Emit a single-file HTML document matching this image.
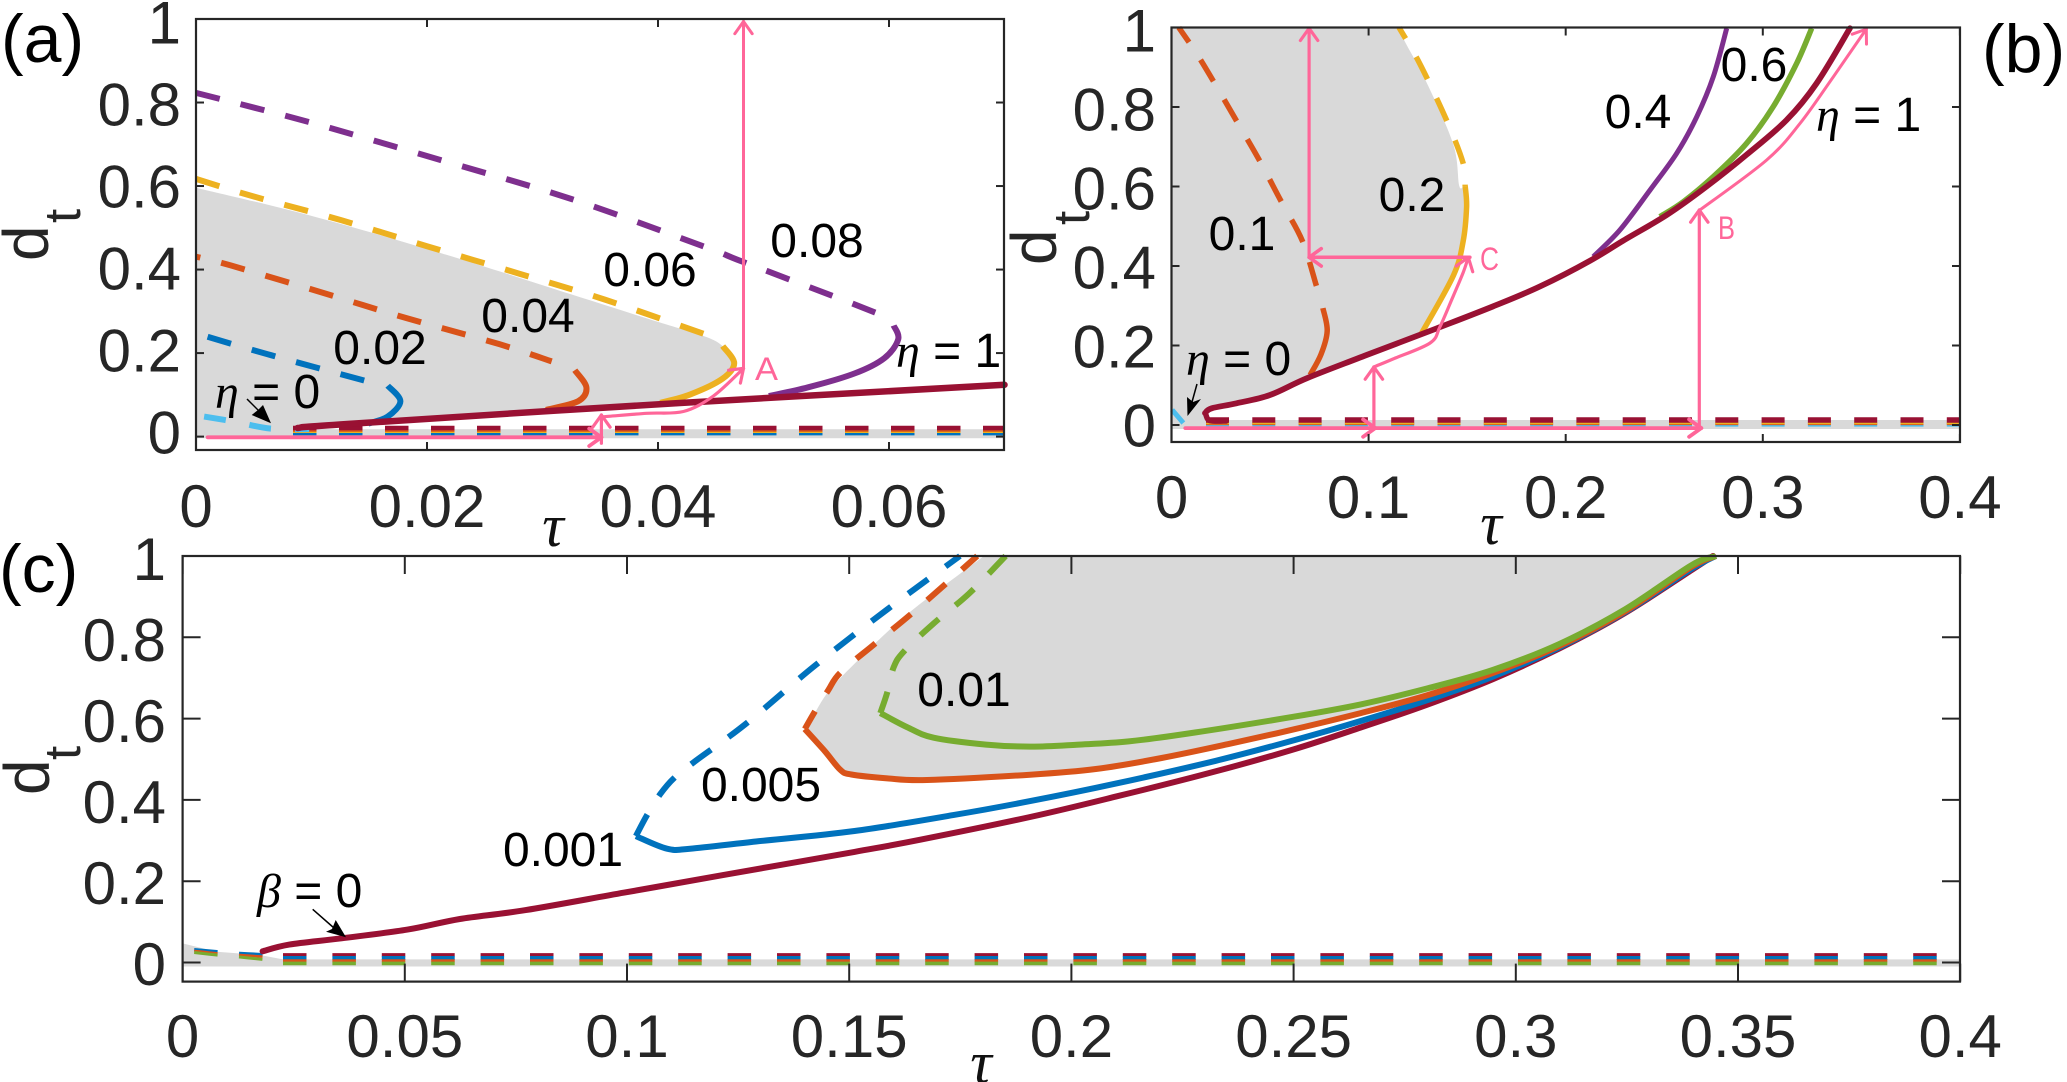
<!DOCTYPE html>
<html lang="en">
<head>
<meta charset="utf-8">
<title>Bifurcation diagrams of d_t against tau</title>
<style>
html,body{margin:0;padding:0;background:#fff;width:2067px;height:1082px;overflow:hidden}
svg{display:block;font-family:"Liberation Sans",Arial,sans-serif}
.lbl{font-size:48px;fill:#000;text-anchor:middle}
.eta{font-size:48px;fill:#000}
.gr{font-family:"Liberation Serif",serif;font-style:italic}
.panel{font-size:68px;fill:#000}
.dt{font-size:64px;fill:#262626}
.dts{font-size:51px;fill:#262626}
.tau{font-family:"Liberation Serif",serif;font-style:italic;font-size:60px;fill:#111;text-anchor:middle}
.pk{font-size:32px;fill:#ff6699}
</style>
</head>
<body>
<svg id="fig" xmlns="http://www.w3.org/2000/svg" width="2067" height="1082" viewBox="0 0 2067 1082">
<g id="panel-a"></g>
<g id="panel-b"></g>
<g id="panel-c"></g>

<g>
<text class="panel" x="1" y="62">(a)</text>
<text class="panel" x="1982" y="72">(b)</text>
<text class="panel" x="-1" y="592">(c)</text>
</g>

<g>
<text class="dt" transform="translate(48,261) rotate(-90)">d</text>
<text class="dts" transform="translate(80,223) rotate(-90)">t</text>
<text class="dt" transform="translate(1056,265) rotate(-90)">d</text>
<text class="dts" transform="translate(1089,225) rotate(-90)">t</text>
<text class="dt" transform="translate(49,795) rotate(-90)">d</text>
<text class="dts" transform="translate(80,760) rotate(-90)">t</text>
</g>
<g>
<text class="tau" x="553" y="546">τ</text>
<text class="tau" x="1491" y="544">τ</text>
<text class="tau" x="981" y="1083">τ</text>
</g>

<g>
<text class="lbl" x="817" y="257">0.08</text>
<text class="lbl" x="650" y="286">0.06</text>
<text class="lbl" x="528" y="332">0.04</text>
<text class="lbl" x="380" y="364">0.02</text>
<text class="eta" x="896" y="367"><tspan class="gr">η</tspan> = 1</text>
<text class="eta" x="215" y="408"><tspan class="gr">η</tspan> = 0</text>
<line x1="247" y1="399" x2="262" y2="414" stroke="#000" stroke-width="1.5"/>
<polygon points="271,423.3 251.7,415 258,410 263,405" fill="#000"/>
<text class="pk" x="755" y="380" textLength="23" lengthAdjust="spacingAndGlyphs">A</text>
</g>
<g>
<text class="lbl" x="1638" y="128">0.4</text>
<text class="lbl" x="1754" y="81">0.6</text>
<text class="lbl" x="1412" y="211">0.2</text>
<text class="lbl" x="1242" y="250">0.1</text>
<text class="eta" x="1816" y="131"><tspan class="gr">η</tspan> = 1</text>
<text class="eta" x="1186" y="375"><tspan class="gr">η</tspan> = 0</text>
<line x1="1197" y1="384" x2="1192" y2="402" stroke="#000" stroke-width="1.5"/>
<polygon points="1187.5,416 1201,399 1193,402 1187,397" fill="#000"/>
<text class="pk" x="1480" y="270" textLength="19" lengthAdjust="spacingAndGlyphs">C</text>
<text class="pk" x="1718" y="239" textLength="17" lengthAdjust="spacingAndGlyphs">B</text>
</g>
<g>
<text class="lbl" x="563" y="866">0.001</text>
<text class="lbl" x="761" y="801">0.005</text>
<text class="lbl" x="964" y="706">0.01</text>
<text class="eta" x="257" y="907"><tspan class="gr">β</tspan> = 0</text>
<line x1="312.7" y1="909.3" x2="334" y2="928" stroke="#000" stroke-width="1.5"/>
<polygon points="346,937.3 326,931.7 332,929 335.7,920" fill="#000"/>
</g>
</svg>

<script>
/* ---------- tick values ---------- */
const aTickX = [0, 0.02, 0.04, 0.06];
const aTickXLabels = ['0', '0.02', '0.04', '0.06'];
const bTickX = [0, 0.1, 0.2, 0.3, 0.4];
const bTickXLabels = ['0', '0.1', '0.2', '0.3', '0.4'];
const cTickX = [0, 0.05, 0.1, 0.15, 0.2, 0.25, 0.3, 0.35, 0.4];
const cTickXLabels = ['0', '0.05', '0.1', '0.15', '0.2', '0.25', '0.3', '0.35', '0.4'];
const tickY = [0, 0.2, 0.4, 0.6, 0.8, 1];
const tickYLabels = ['0', '0.2', '0.4', '0.6', '0.8', '1'];

/* ---------- panel (a) series: tau and d_t ---------- */
const aPurpleDashTau = [0, 0.0098, 0.0212, 0.0325, 0.0439, 0.0473, 0.0553, 0.059];
const aPurpleDashD = [0.823, 0.753, 0.662, 0.569, 0.456, 0.419, 0.335, 0.295];
const aPurpleTau = [0.0604, 0.0608, 0.0596, 0.057, 0.053, 0.0496];
const aPurpleD = [0.266, 0.233, 0.188, 0.151, 0.118, 0.097];
const aYellowDashTau = [0, 0.005, 0.0126, 0.02, 0.028, 0.0354, 0.044];
const aYellowDashD = [0.617, 0.575, 0.518, 0.456, 0.39, 0.328, 0.2457];
const aYellowTau = [0.0456, 0.0466, 0.0456, 0.0428, 0.0402];
const aYellowD = [0.2168, 0.176, 0.139, 0.101, 0.081];
const aOrangeDashTau = [0, 0.003, 0.0109, 0.0183, 0.0263, 0.0308];
const aOrangeDashD = [0.431, 0.41, 0.345, 0.283, 0.221, 0.18];
const aOrangeTau = [0.0328, 0.0338, 0.0331, 0.0303];
const aOrangeD = [0.159, 0.118, 0.085, 0.064];
const aBlueDashTau = [0.001, 0.0065, 0.0146];
const aBlueDashD = [0.239, 0.195, 0.134];
const aBlueTau = [0.0166, 0.0177, 0.0166, 0.0149];
const aBlueD = [0.122, 0.085, 0.048, 0.031];
const aCyanTau = [0.0007, 0.0035, 0.0064, 0.0098];
const aCyanD = [0.048, 0.035, 0.0195, 0.018];
const aMaroonTau = [0.0088, 0.0131, 0.0419, 0.07];
const aMaroonD = [0.0206, 0.0302, 0.0805, 0.124];
const aEdgeTau = [0, 0.0098, 0.0212, 0.0325, 0.04, 0.0439];
const aEdgeD = [0.596, 0.53, 0.4395, 0.3405, 0.2746, 0.2416];
const aStackTau = [0.0084, 0.07];
const aStackBlueD = [0.0062, 0.0062];
const aStackYellowD = [0.011, 0.011];
const aStackOrangeD = [0.0142, 0.0142];
const aStackMaroonD = [0.0206, 0.0206];
const aBandD = [0.0175, -0.004];
const aPinkHTau = [0.001, 0.0351];
const aPinkHD = [-0.0016, -0.0016];
const aPinkVTau = [0.0351, 0.0351];
const aPinkVD = [-0.016, 0.0517];
const aPinkCurveTau = [0.0353, 0.039, 0.0422, 0.0448, 0.0474];
const aPinkCurveD = [0.0476, 0.0558, 0.0602, 0.0973, 0.1633];
const aPinkJumpTau = [0.0474, 0.0474];
const aPinkJumpD = [0.1633, 0.994];

/* ---------- panel (b) series ---------- */
const bMaroonTau = [0.017, 0.0204, 0.033, 0.05, 0.0686, 0.099, 0.1345, 0.163, 0.187, 0.2123, 0.2292, 0.2512, 0.2715, 0.2918, 0.3121, 0.3273, 0.3442];
const bMaroonD = [0.03, 0.042, 0.0546, 0.0755, 0.1175, 0.176, 0.243, 0.298, 0.3486, 0.413, 0.464, 0.528, 0.6, 0.68, 0.7673, 0.8595, 0.998];
const bHookTau = [0.0175, 0.0195, 0.0277];
const bHookD = [0.025, 0.011, 0.01];
const bGreenTau = [0.2478, 0.2597, 0.2749, 0.2918, 0.3053, 0.3172, 0.3248];
const bGreenD = [0.524, 0.5618, 0.6247, 0.7087, 0.8008, 0.91, 0.998];
const bPurpleTau = [0.214, 0.2275, 0.2428, 0.2563, 0.2665, 0.2749, 0.2817];
const bPurpleD = [0.4234, 0.4906, 0.5912, 0.6835, 0.7756, 0.8763, 0.998];
const bYellowDashTau = [0.1154, 0.126, 0.1396, 0.148, 0.149];
const bYellowDashD = [1, 0.909, 0.766, 0.658, 0.601];
const bYellowTau = [0.149, 0.1497, 0.148, 0.143, 0.1269];
const bYellowD = [0.601, 0.549, 0.463, 0.376, 0.231];
const bOrangeDashTau = [0.0037, 0.0148, 0.0329, 0.0446, 0.0557, 0.0664, 0.0735];
const bOrangeDashD = [1, 0.918, 0.766, 0.666, 0.562, 0.463, 0.35];
const bOrangeTau = [0.0768, 0.079, 0.0758, 0.0703];
const bOrangeD = [0.294, 0.237, 0.177, 0.1258];
const bCyanTau = [0.0003, 0.006];
const bCyanD = [0.038, 0.005];
const bEdgeTopTau = [0, 0.1154];
const bEdgeTopD = [1, 1];
const bEdgeTau = [0.1154, 0.1178, 0.1295, 0.143, 0.146];
const bEdgeD = [1, 0.97, 0.861, 0.705, 0.601];
const bStackTau = [0.0175, 0.4];
const bStackCyanD = [-0.0013, -0.0013];
const bStackOrangeD = [0.0025, 0.0025];
const bStackYellowD = [0.005, 0.005];
const bStackMaroonD = [0.0126, 0.0126];
const bBandD = [0.0126, -0.01];
const bPinkH1Tau = [0.007, 0.1034];
const bPinkH1D = [-0.0078, -0.0078];
const bPinkH2Tau = [0.1034, 0.2688];
const bPinkH2D = [-0.0078, -0.0078];
const bPinkV1Tau = [0.1027, 0.1027];
const bPinkV1D = [-0.0078, 0.146];
const bPinkCurve1Tau = [0.1027, 0.1124, 0.1312, 0.1362, 0.1428, 0.1479, 0.1506];
const bPinkCurve1D = [0.146, 0.166, 0.2063, 0.2473, 0.3228, 0.3824, 0.4218];
const bPinkBackTau = [0.1514, 0.0698];
const bPinkBackD = [0.4218, 0.4218];
const bPinkUpTau = [0.0698, 0.0698];
const bPinkUpD = [0.4218, 0.998];
const bPinkV2Tau = [0.2678, 0.2678];
const bPinkV2D = [-0.0078, 0.5409];
const bPinkCurve2Tau = [0.2681, 0.302, 0.3189, 0.3358, 0.3525];
const bPinkCurve2D = [0.5409, 0.6667, 0.759, 0.8763, 0.996];

/* ---------- panel (c) series ---------- */
const cMaroonTau = [0.018, 0.024, 0.0358, 0.0506, 0.0624, 0.0772, 0.0994, 0.1216, 0.1512, 0.166, 0.1907, 0.21, 0.2324, 0.2502, 0.2651, 0.28, 0.2948, 0.3097, 0.3246, 0.3395, 0.3444];
const cMaroonD = [0.0275, 0.044, 0.0595, 0.081, 0.107, 0.129, 0.172, 0.215, 0.272, 0.302, 0.358, 0.408, 0.47, 0.525, 0.578, 0.634, 0.697, 0.772, 0.86, 0.965, 1];
const cBlueTau = [0.102, 0.109, 0.1142, 0.129, 0.1512, 0.1734, 0.1907, 0.21, 0.2324, 0.2502, 0.2651, 0.28, 0.2948, 0.3097, 0.3246, 0.3395, 0.345];
const cBlueD = [0.311, 0.28, 0.28, 0.2976, 0.3236, 0.3625, 0.397, 0.44, 0.496, 0.547, 0.594, 0.645, 0.703, 0.775, 0.862, 0.968, 1];
const cBlueDashTau = [0.102, 0.1045, 0.1075, 0.1105, 0.115, 0.1268, 0.1423, 0.1586, 0.1749];
const cBlueDashD = [0.311, 0.3625, 0.4145, 0.453, 0.4925, 0.5877, 0.7305, 0.869, 1];
const cOrangeTau = [0.14, 0.1445, 0.148, 0.1505, 0.1586, 0.1675, 0.1907, 0.2055, 0.2203, 0.2352, 0.2502, 0.2651, 0.28, 0.2948, 0.3097, 0.3246, 0.3395, 0.345];
const cOrangeD = [0.5745, 0.52, 0.474, 0.4625, 0.453, 0.449, 0.462, 0.476, 0.503, 0.537, 0.574, 0.6136, 0.657, 0.712, 0.778, 0.864, 0.973, 1];
const cOrangeDashTau = [0.14, 0.1423, 0.1453, 0.148, 0.1556, 0.1638, 0.172, 0.1788];
const cOrangeDashD = [0.5745, 0.618, 0.67, 0.713, 0.7825, 0.856, 0.934, 1];
const cGreenTau = [0.157, 0.163, 0.169, 0.1808, 0.1907, 0.2012, 0.2129, 0.228, 0.2502, 0.2651, 0.28, 0.2948, 0.3097, 0.3246, 0.3395, 0.345];
const cGreenD = [0.6136, 0.579, 0.553, 0.536, 0.531, 0.5358, 0.544, 0.566, 0.605, 0.635, 0.674, 0.7195, 0.783, 0.869, 0.977, 1];
const cGreenDashTau = [0.157, 0.1586, 0.16, 0.1623, 0.169, 0.177, 0.1852];
const cGreenDashD = [0.6136, 0.6656, 0.726, 0.765, 0.834, 0.908, 1];
const cEdgeTau = [0.1803, 0.163, 0.1512, 0.1453, 0.1423];
const cEdgeD = [1, 0.856, 0.735, 0.666, 0.614];
const cCurveTau = [0.0026, 0.0077, 0.0128, 0.0182];
const cCurveBlueD = [0.032, 0.027, 0.023, 0.0197];
const cCurveOrangeD = [0.0285, 0.0225, 0.0185, 0.0143];
const cCurveGreenD = [0.0246, 0.0185, 0.0135, 0.0074];
const cStackTau = [0.0226, 0.4];
const cStackMaroonD = [0.019, 0.019];
const cStackBlueD = [0.0111, 0.0111];
const cStackOrangeD = [0.0044, 0.0044];
const cStackGreenD = [-0.0022, -0.0022];
const cWedgeTau = [0, 0.0077, 0.0174, 0.0226];
const cWedgeD = [0.047, 0.0266, 0.0185, 0.0076];
const cBandD = [0.0076, -0.0098];

/* ---------- axis functions ---------- */
const aX = t => 196 + t * 11550;
const aY = d => 436.6 - d * 417.6;
const bX = t => 1171.5 + t * 1971;
const bY = d => 425 - d * 397.5;
const cX = t => 182.6 + t * 4444;
const cY = d => 962.5 - d * 406.5;

const NS = 'http://www.w3.org/2000/svg';
const COL = {blue:'#0072bd', orange:'#d95319', yellow:'#edb120', purple:'#7e2f8e', green:'#77ac30', cyan:'#4dbeee', maroon:'#991133', pink:'#ff6699', gray:'#d9d9d9', axis:'#262626'};

function pts(tau, d, X, Y) {
  return tau.map((t, i) => [X(t), Y(d[i])]);
}
function smoothPath(p) {
  let s = 'M' + p[0][0].toFixed(1) + ' ' + p[0][1].toFixed(1);
  for (let i = 0; i < p.length - 1; i++) {
    const a = p[Math.max(i - 1, 0)], b = p[i], c = p[i + 1], e = p[Math.min(i + 2, p.length - 1)];
    const c1x = b[0] + (c[0] - a[0]) / 6, c1y = b[1] + (c[1] - a[1]) / 6;
    const c2x = c[0] - (e[0] - b[0]) / 6, c2y = c[1] - (e[1] - b[1]) / 6;
    s += 'C' + [c1x, c1y, c2x, c2y, c[0], c[1]].map(v => v.toFixed(1)).join(' ');
  }
  return s;
}
function linePath(p) {
  return 'M' + p.map(q => q[0].toFixed(1) + ' ' + q[1].toFixed(1)).join('L');
}
function curve(parent, name, p, color, width, dash, straight, cap, offset) {
  const el = document.createElementNS(NS, 'path');
  
  
  el.setAttribute('d', straight ? linePath(p) : smoothPath(p));
  el.setAttribute('fill', 'none');
  el.setAttribute('stroke', color);
  el.setAttribute('stroke-width', width);
  el.setAttribute('stroke-linecap', cap || 'butt');
  el.setAttribute('stroke-linejoin', 'round');
  if (dash) el.setAttribute('stroke-dasharray', dash);
  if (offset) el.setAttribute('stroke-dashoffset', offset);
  parent.appendChild(el);
  return el;
}
function area(parent, name, segs) {
  const el = document.createElementNS(NS, 'path');
  
  
  const d = segs.map((s, i) => {
    const part = s[1] ? smoothPath(s[0]) : linePath(s[0]);
    return i === 0 ? part : 'L' + part.slice(1);
  }).join('') + 'Z';
  el.setAttribute('d', d);
  el.setAttribute('fill', COL.gray);
  parent.appendChild(el);
}
function arrow(parent, name, p, width, smooth) {
  curve(parent, name, p, COL.pink, width, null, !smooth, 'round');
  const tip = p[p.length - 1], prev = p[p.length - 2];
  const ang = Math.atan2(tip[1] - prev[1], tip[0] - prev[0]);
  const arm = 15, spread = 0.62;
  const h = [
    [tip[0] - arm * Math.cos(ang - spread), tip[1] - arm * Math.sin(ang - spread)],
    tip,
    [tip[0] - arm * Math.cos(ang + spread), tip[1] - arm * Math.sin(ang + spread)]
  ];
  curve(parent, name + '-head', h, COL.pink, width, null, true, 'round');
}
function axes(parent, cfg) {
  const frame = document.createElementNS(NS, 'rect');
  
  
  frame.setAttribute('x', cfg.l);
  frame.setAttribute('y', cfg.t);
  frame.setAttribute('width', cfg.r - cfg.l);
  frame.setAttribute('height', cfg.b - cfg.t);
  frame.setAttribute('fill', 'none');
  frame.setAttribute('stroke', COL.axis);
  frame.setAttribute('stroke-width', '2.2');
  parent.appendChild(frame);

  cfg.xTicks.forEach((v, i) => {
    const x = cfg.X(v);
    [[cfg.t, cfg.t + cfg.tl], [cfg.b, cfg.b - cfg.tl]].forEach(seg => {
      const ln = document.createElementNS(NS, 'line');
      
      
      ln.setAttribute('x1', x);
      ln.setAttribute('x2', x);
      ln.setAttribute('y1', seg[0]);
      ln.setAttribute('y2', seg[1]);
      ln.setAttribute('stroke', COL.axis);
      ln.setAttribute('stroke-width', '2');
      parent.appendChild(ln);
    });
    const tx = document.createElementNS(NS, 'text');
    
    
    tx.setAttribute('x', x);
    tx.setAttribute('y', cfg.xLabelBase);
    tx.setAttribute('text-anchor', 'middle');
    tx.setAttribute('font-size', '60');
    tx.setAttribute('fill', COL.axis);
    tx.textContent = cfg.xLabels[i];
    parent.appendChild(tx);
  });
  tickY.forEach((v, i) => {
    const y = cfg.Y(v);
    [[cfg.l, cfg.l + cfg.tl], [cfg.r, cfg.r - cfg.tl]].forEach(seg => {
      const ln = document.createElementNS(NS, 'line');
      
      
      ln.setAttribute('x1', seg[0]);
      ln.setAttribute('x2', seg[1]);
      ln.setAttribute('y1', y);
      ln.setAttribute('y2', y);
      ln.setAttribute('stroke', COL.axis);
      ln.setAttribute('stroke-width', '2');
      parent.appendChild(ln);
    });
    const tx = document.createElementNS(NS, 'text');
    
    
    tx.setAttribute('x', cfg.yLabelX);
    tx.setAttribute('y', cfg.yLabelY0 - v * cfg.yLabelK + 21.5);
    tx.setAttribute('text-anchor', 'end');
    tx.setAttribute('font-size', '60');
    tx.setAttribute('fill', COL.axis);
    tx.textContent = tickYLabels[i];
    parent.appendChild(tx);
  });
}

const DASH = '24.5 21.5';

/* ---------- panel (a) ---------- */
(function () {
  const g = document.getElementById('panel-a');
  const P = (t, d) => pts(t, d, aX, aY);
  const grayTop = P(aEdgeTau, aEdgeD).concat(P(aYellowTau, aYellowD));
  const grayLow = P(aMaroonTau.slice(0, 3), aMaroonD.slice(0, 3)).reverse();
  const bandEnd = [[aX(0.012), aY(aBandD[0])], [aX(0.07), aY(aBandD[0])], [aX(0.07), aY(aBandD[1])], [aX(0), aY(aBandD[1])]];
  area(g, 'unstable-region-a', [[grayTop, true], [grayLow, false], [bandEnd, false]]);

  const stack = '23.5 22.5';
  curve(g, 'stack-blue-a', P(aStackTau, aStackBlueD), COL.blue, 2.8, stack, true);
  curve(g, 'stack-yellow-a', P(aStackTau, aStackYellowD), COL.yellow, 2, stack, true);
  curve(g, 'stack-orange-a', P(aStackTau, aStackOrangeD), COL.orange, 2, stack, true);
  curve(g, 'stack-maroon-a', P(aStackTau, aStackMaroonD), COL.maroon, 4.4, stack, true);
  curve(g, 'eta-0-dashed-a', P(aCyanTau, aCyanD), COL.cyan, 6, '22 24');
  curve(g, 'eta-0-02-dashed', P(aBlueDashTau, aBlueDashD), COL.blue, 6, DASH);
  curve(g, 'eta-0-02-solid', P(aBlueTau, aBlueD), COL.blue, 6);
  curve(g, 'eta-0-04-dashed', P(aOrangeDashTau, aOrangeDashD), COL.orange, 6, DASH, false, null, 20);
  curve(g, 'eta-0-04-solid', P(aOrangeTau, aOrangeD), COL.orange, 6);
  curve(g, 'eta-0-06-dashed', P(aYellowDashTau, aYellowDashD), COL.yellow, 6, DASH);
  curve(g, 'eta-0-06-solid', P(aYellowTau, aYellowD), COL.yellow, 6);
  curve(g, 'eta-0-08-dashed', P(aPurpleDashTau, aPurpleDashD), COL.purple, 6, DASH);
  curve(g, 'eta-0-08-solid', P(aPurpleTau, aPurpleD), COL.purple, 6);
  curve(g, 'eta-1-solid-a', P(aMaroonTau, aMaroonD), COL.maroon, 6.5, null, false, 'round');
  arrow(g, 'path-horizontal-a', P(aPinkHTau, aPinkHD), 3.8);
  arrow(g, 'path-vertical-a', P(aPinkVTau, aPinkVD), 3.2);
  arrow(g, 'path-curve-a', P(aPinkCurveTau, aPinkCurveD), 3.2, true);
  arrow(g, 'path-jump-a', P(aPinkJumpTau, aPinkJumpD), 3);

  axes(g, {name:'axes-a', l:196, r:1004, t:19, b:450, tl:8, X:aX, Y:aY, xTicks:aTickX, xLabels:aTickXLabels, xLabelBase:527, yLabelX:181, yLabelY0:432, yLabelK:410});
})();

/* ---------- panel (b) ---------- */
(function () {
  const g = document.getElementById('panel-b');
  const P = (t, d) => pts(t, d, bX, bY);
  const top = P(bEdgeTopTau, bEdgeTopD);
  const edge = P(bEdgeTau, bEdgeD).concat(P(bYellowTau, bYellowD));
  const low = P(bMaroonTau.slice(0, 6), bMaroonD.slice(0, 6)).reverse();
  const bandEnd = [[bX(0.0175), bY(bBandD[0])], [bX(0.4), bY(bBandD[0])], [bX(0.4), bY(bBandD[1])], [bX(0), bY(bBandD[1])]];
  area(g, 'unstable-region-b', [[top, false], [edge, true], [low, false], [bandEnd, false]]);

  const stack = '23 23.3';
  curve(g, 'stack-cyan-b', P(bStackTau, bStackCyanD), COL.cyan, 2.2, stack, true);
  curve(g, 'stack-orange-b', P(bStackTau, bStackOrangeD), COL.orange, 2.2, stack, true);
  curve(g, 'stack-yellow-b', P(bStackTau, bStackYellowD), COL.yellow, 2.4, stack, true);
  curve(g, 'stack-maroon-b', P(bStackTau, bStackMaroonD), COL.maroon, 5.4, stack, true);
  curve(g, 'eta-0-dashed-b', P(bCyanTau, bCyanD), COL.cyan, 5);
  curve(g, 'eta-0-1-dashed', P(bOrangeDashTau, bOrangeDashD), COL.orange, 5.5, '25 21', false, null, 7);
  curve(g, 'eta-0-1-solid', P(bOrangeTau, bOrangeD), COL.orange, 5.5);
  curve(g, 'eta-0-2-dashed', P(bYellowDashTau, bYellowDashD), COL.yellow, 5.5, '25 21', false, null, 12);
  curve(g, 'eta-0-2-solid', P(bYellowTau, bYellowD), COL.yellow, 5.5);
  curve(g, 'eta-0-6-solid', P(bGreenTau, bGreenD), COL.green, 5.5);
  curve(g, 'eta-0-4-solid', P(bPurpleTau, bPurpleD), COL.purple, 5);
  curve(g, 'eta-1-solid-b', P(bMaroonTau, bMaroonD), COL.maroon, 5.8, null, false, 'round');
  curve(g, 'eta-1-hook-b', P(bHookTau, bHookD), COL.maroon, 5.5, null, false, 'round');
  arrow(g, 'path-horizontal-1-b', P(bPinkH1Tau, bPinkH1D), 3.8);
  arrow(g, 'path-horizontal-2-b', P(bPinkH2Tau, bPinkH2D), 3.8);
  arrow(g, 'path-vertical-1-b', P(bPinkV1Tau, bPinkV1D), 3.2);
  arrow(g, 'path-curve-1-b', P(bPinkCurve1Tau, bPinkCurve1D), 3.2, true);
  arrow(g, 'path-back-b', P(bPinkBackTau, bPinkBackD), 3.5);
  arrow(g, 'path-up-b', P(bPinkUpTau, bPinkUpD), 3.2);
  arrow(g, 'path-vertical-2-b', P(bPinkV2Tau, bPinkV2D), 3.2);
  arrow(g, 'path-curve-2-b', P(bPinkCurve2Tau, bPinkCurve2D), 3, true);

  axes(g, {name:'axes-b', l:1171.5, r:1960, t:27.5, b:442, tl:8, X:bX, Y:bY, xTicks:bTickX, xLabels:bTickXLabels, xLabelBase:518, yLabelX:1156, yLabelY0:425, yLabelK:395});
})();

/* ---------- panel (c) ---------- */
(function () {
  const g = document.getElementById('panel-c');
  const P = (t, d) => pts(t, d, cX, cY);
  area(g, 'unstable-region-c', [[P(cOrangeTau, cOrangeD), true], [P(cEdgeTau, cEdgeD), true]]);
  const band = P(cWedgeTau, cWedgeD).concat([[cX(0.4), cY(cBandD[0])], [cX(0.4), cY(cBandD[1])], [cX(0), cY(cBandD[1])]]);
  area(g, 'unstable-region-low-c', [[band, false]]);

  const stack = '23.5 25.9';
  const curved = '23.5 21.5';
  curve(g, 'curved-blue-c', P(cCurveTau, cCurveBlueD), COL.blue, 3, curved);
  curve(g, 'curved-orange-c', P(cCurveTau, cCurveOrangeD), COL.orange, 2.6, curved);
  curve(g, 'curved-green-c', P(cCurveTau, cCurveGreenD), COL.green, 3, curved);
  curve(g, 'stack-maroon-c', P(cStackTau, cStackMaroonD), COL.maroon, 3.4, stack, true);
  curve(g, 'stack-blue-c', P(cStackTau, cStackBlueD), COL.blue, 4, stack, true);
  curve(g, 'stack-orange-c', P(cStackTau, cStackOrangeD), COL.orange, 3, stack, true);
  curve(g, 'stack-green-c', P(cStackTau, cStackGreenD), COL.green, 3.6, stack, true);
  curve(g, 'beta-0-solid', P(cMaroonTau, cMaroonD), COL.maroon, 6, null, false, 'round');
  curve(g, 'beta-0-001-dashed', P(cBlueDashTau, cBlueDashD), COL.blue, 6, DASH);
  curve(g, 'beta-0-001-solid', P(cBlueTau, cBlueD), COL.blue, 6);
  curve(g, 'beta-0-005-dashed', P(cOrangeDashTau, cOrangeDashD), COL.orange, 6, DASH, false, null, 4);
  curve(g, 'beta-0-005-solid', P(cOrangeTau, cOrangeD), COL.orange, 6);
  curve(g, 'beta-0-01-dashed', P(cGreenDashTau, cGreenDashD), COL.green, 6, DASH, false, null, 2);
  curve(g, 'beta-0-01-solid', P(cGreenTau, cGreenD), COL.green, 6);

  axes(g, {name:'axes-c', l:182.6, r:1960, t:556, b:981.6, tl:18, X:cX, Y:cY, xTicks:cTickX, xLabels:cTickXLabels, xLabelBase:1057, yLabelX:166, yLabelY0:963.5, yLabelK:405});
})();
</script>
</body>
</html>
